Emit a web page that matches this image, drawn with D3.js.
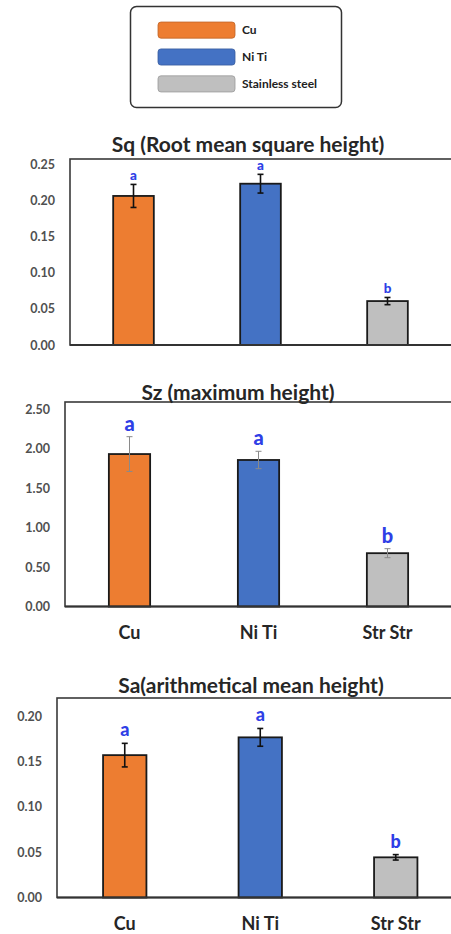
<!DOCTYPE html>
<html>
<head>
<meta charset="utf-8">
<script src="https://cdn.jsdelivr.net/npm/d3@7"></script>
<style>
  html, body { margin: 0; padding: 0; background: #fff; }
  svg { display: block; }
  text { font-family: Lato, "Open Sans", sans-serif; font-weight: bold; }
</style>
</head>
<body>
<svg id="chart" width="451" height="934"></svg>
<script>
// ---- data ----
const categories = ["Cu", "Ni Ti", "Str Str"];
const legendLabels = ["Cu", "Ni Ti", "Stainless steel"];
const barColors = ["#ED7D31", "#4472C4", "#BFBFBF"];

const sqTitle = "Sq (Root mean square height)";
const sqValues = [0.207, 0.224, 0.061];
const sqErrors = [0.016, 0.013, 0.005];
const sqLetters = ["a", "a", "b"];
const sqTicks = [0, 0.05, 0.10, 0.15, 0.20, 0.25];

const szTitle = "Sz (maximum height)";
const szValues = [1.93, 1.855, 0.675];
const szErrors = [0.22, 0.11, 0.057];
const szLetters = ["a", "a", "b"];
const szTicks = [0, 0.5, 1.0, 1.5, 2.0, 2.5];

const saTitle = "Sa(arithmetical mean height)";
const saValues = [0.157, 0.1766, 0.0443];
const saErrors = [0.013, 0.0098, 0.003];
const saLetters = ["a", "a", "b"];
const saTicks = [0, 0.05, 0.10, 0.15, 0.20];

// ---- layout ----
const svg = d3.select("#chart");

// legend
const lg = svg.append("g");
lg.append("rect").attr("x", 130.5).attr("y", 6.5).attr("width", 211).attr("height", 101)
  .attr("rx", 6).attr("fill", "#fff").attr("stroke", "#333").attr("stroke-width", 1.5);
const legY = d3.scaleBand().domain(legendLabels).range([18, 96]).paddingInner(0.4).paddingOuter(0.15);
legendLabels.forEach((lab, i) => {
  const c = d3.color(barColors[i]);
  lg.append("rect").attr("x", 158).attr("y", legY(lab)).attr("width", 77).attr("height", legY.bandwidth())
    .attr("rx", 3).attr("fill", barColors[i]).attr("stroke", c.darker(0.6)).attr("stroke-width", 0.8);
  lg.append("text").attr("x", 242).attr("y", legY(lab) + legY.bandwidth() / 2)
    .attr("dy", "0.35em").attr("font-size", 12).attr("fill", "#222").text(lab);
});

function drawChart(cfg) {
  const g = svg.append("g");
  const x = d3.scaleBand().domain(categories).range([cfg.left, cfg.right])
    .paddingInner(0.68).paddingOuter(0.34);
  const y = d3.scaleLinear().domain([0, cfg.yMax]).range([cfg.bottom, cfg.top]);

  // frame
  g.append("rect").attr("x", cfg.left).attr("y", cfg.top)
    .attr("width", cfg.right - cfg.left + 20).attr("height", cfg.bottom - cfg.top)
    .attr("fill", "none").attr("stroke", "#3a3a3a").attr("stroke-width", 1.6);

  // y axis
  const ax = g.append("g").attr("transform", `translate(${cfg.left},0)`)
    .call(d3.axisLeft(y).tickValues(cfg.ticks).tickFormat(d3.format(".2f")).tickSize(0).tickPadding(15));
  ax.select(".domain").remove();
  ax.selectAll("text").attr("font-size", 12.5).attr("fill", "#505050")
    .style("font-family", "Lato, sans-serif").style("font-weight", "bold");

  // bars
  g.selectAll(".bar").data(cfg.values).join("rect")
    .attr("x", (d, i) => x(categories[i]))
    .attr("y", d => y(d))
    .attr("width", x.bandwidth())
    .attr("height", d => y(0) - y(d))
    .attr("fill", (d, i) => barColors[i])
    .attr("stroke", "#1a1a1a").attr("stroke-width", 1.8);

  // error bars
  cfg.values.forEach((v, i) => {
    const cx = x(categories[i]) + x.bandwidth() / 2;
    const e = cfg.errors[i];
    const eg = g.append("g").attr("stroke", cfg.errColor).attr("stroke-width", cfg.errWidth);
    eg.append("line").attr("x1", cx).attr("x2", cx).attr("y1", y(v + e)).attr("y2", y(v - e));
    eg.append("line").attr("x1", cx - 3).attr("x2", cx + 3).attr("y1", y(v + e)).attr("y2", y(v + e));
    eg.append("line").attr("x1", cx - 3).attr("x2", cx + 3).attr("y1", y(v - e)).attr("y2", y(v - e));
    g.append("text").attr("x", cx).attr("y", y(v + e) - cfg.letterGap)
      .attr("text-anchor", "middle").attr("font-size", cfg.letterSize)
      .attr("fill", "#2f3fe6").style("font-weight", 900).text(cfg.letters[i]);
  });

  // bottom axis line
  g.append("line").attr("x1", cfg.left).attr("x2", 451).attr("y1", cfg.bottom).attr("y2", cfg.bottom)
    .attr("stroke", "#333").attr("stroke-width", 1.8);

  // x labels
  if (cfg.xLabelY) {
    categories.forEach(c => {
      g.append("text").attr("x", x(c) + x.bandwidth() / 2).attr("y", cfg.xLabelY)
        .attr("text-anchor", "middle").attr("font-size", 18).attr("fill", "#262626").text(c);
    });
  }

  // title
  g.append("text").attr("x", cfg.titleX).attr("y", cfg.titleY).attr("text-anchor", "middle")
    .attr("font-size", 21).attr("fill", "#262626").text(cfg.title);
}

drawChart({ title: sqTitle, values: sqValues, errors: sqErrors, letters: sqLetters, ticks: sqTicks,
  left: 70, right: 451, top: 159, bottom: 345, yMax: 0.2583, titleX: 248, titleY: 152,
  letterSize: 13.5, letterGap: 4, errColor: "#111", errWidth: 1.6, xLabelY: null });

drawChart({ title: szTitle, values: szValues, errors: szErrors, letters: szLetters, ticks: szTicks,
  left: 65, right: 452, top: 402, bottom: 606.5, yMax: 2.589, titleX: 238, titleY: 400,
  letterSize: 20, letterGap: 6, errColor: "#8a8a8a", errWidth: 1, xLabelY: 639 });

drawChart({ title: saTitle, values: saValues, errors: saErrors, letters: saLetters, ticks: saTicks,
  left: 57, right: 463.5, top: 698, bottom: 897.5, yMax: 0.22, titleX: 251, titleY: 693,
  letterSize: 18, letterGap: 7, errColor: "#111", errWidth: 1.6, xLabelY: 930 });
</script>
</body>
</html>
